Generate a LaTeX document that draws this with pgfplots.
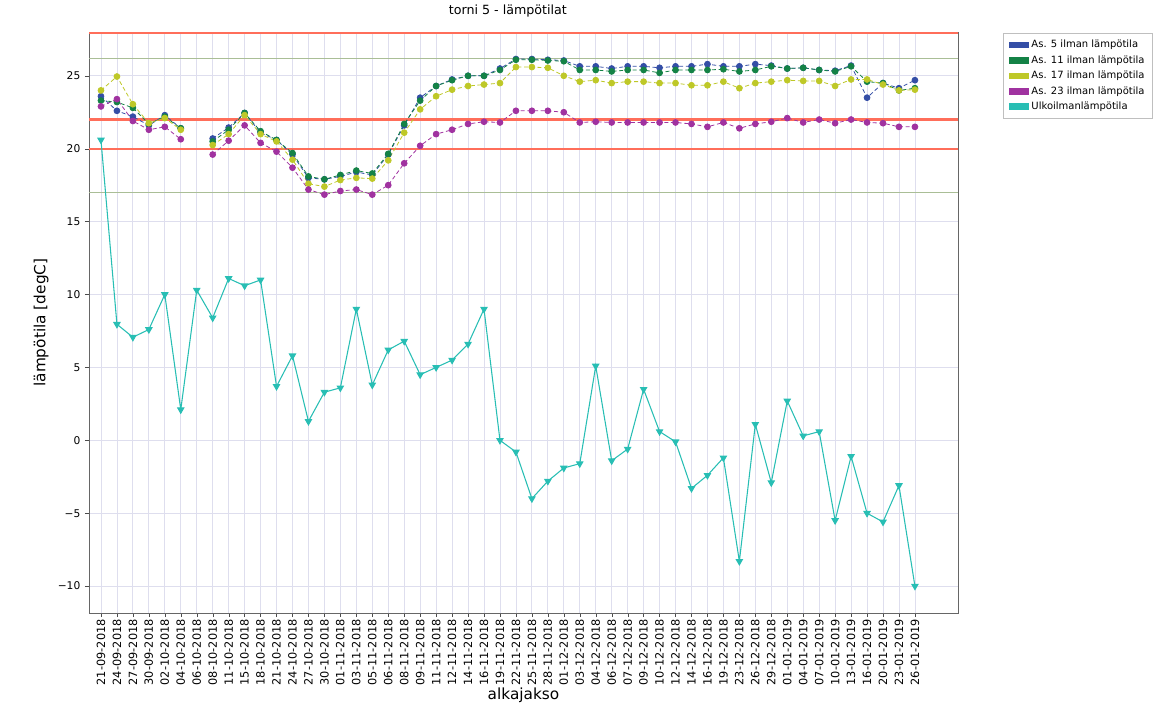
\documentclass[border=0pt]{standalone}
\usepackage{fontspec}
\setmainfont{DejaVu Sans}
\usepackage{pgfplots}
\usepackage{pgfplotstable}
\pgfplotsset{compat=1.18}
\definecolor{c5}{RGB}{52,78,166}
\definecolor{c11}{RGB}{20,130,70}
\definecolor{c17}{RGB}{190,200,40}
\definecolor{c23}{RGB}{160,50,160}
\definecolor{cout}{RGB}{40,190,180}
\definecolor{limred}{RGB}{255,110,90}
\definecolor{limgreen}{RGB}{170,190,150}
\definecolor{gridc}{RGB}{222,222,238}

% i = aikajakson indeksi
\pgfplotstableread{
i  b     g     y     m     o
0  23.6  23.3  24.0  22.9  20.6
1  22.6  23.2  24.95 23.4  7.96
2  22.2  22.8  23.05 21.9  7.07
3  21.6  21.7  21.75 21.3  7.6
4  22.3  22.2  22.1  21.5  10.0
5  21.4  21.4  21.3  20.65 2.1
6  nan   nan   nan   nan   10.3
7  20.7  20.5  20.25 19.6  8.4
8  21.45 21.3  21.0  20.55 11.1
9  22.45 22.45 22.3  21.6  10.6
10 21.1  21.2  21.0  20.4  11.0
11 20.6  20.6  20.5  19.8  3.7
12 19.6  19.7  19.25 18.7  5.8
13 18.0  18.1  17.6  17.2  1.3
14 17.9  17.9  17.4  16.85 3.3
15 18.1  18.2  17.85 17.1  3.6
16 18.4  18.5  18.0  17.2  9.0
17 18.2  18.3  17.95 16.85 3.8
18 19.6  19.65 19.2  17.5  6.2
19 21.6  21.7  21.1  19.0  6.8
20 23.5  23.3  22.7  20.2  4.5
21 24.3  24.3  23.6  21.0  5.0
22 24.75 24.7  24.05 21.3  5.5
23 25.0  25.0  24.3  21.7  6.6
24 25.0  25.0  24.4  21.85 9.0
25 25.5  25.4  24.5  21.8  0.0
26 26.15 26.1  25.6  22.6  -0.8
27 26.15 26.1  25.6  22.6  -4.0
28 26.1  26.05 25.55 22.6  -2.8
29 26.05 26.0  25.0  22.5  -1.9
30 25.65 25.4  24.6  21.8  -1.6
31 25.65 25.4  24.7  21.85 5.1
32 25.5  25.3  24.5  21.8  -1.4
33 25.65 25.4  24.6  21.8  -0.6
34 25.65 25.4  24.6  21.8  3.5
35 25.55 25.2  24.5  21.8  0.6
36 25.65 25.4  24.5  21.8  -0.1
37 25.65 25.4  24.35 21.7  -3.3
38 25.8  25.4  24.35 21.5  -2.4
39 25.65 25.45 24.6  21.8  -1.2
40 25.65 25.3  24.15 21.4  -8.3
41 25.8  25.4  24.5  21.7  1.1
42 25.7  25.65 24.6  21.85 -2.9
43 25.5  25.5  24.7  22.1  2.7
44 25.55 25.55 24.65 21.8  0.3
45 25.4  25.4  24.65 22.0  0.6
46 25.35 25.3  24.3  21.75 -5.5
47 25.7  25.65 24.75 22.0  -1.1
48 23.5  24.6  24.75 21.8  -5.0
49 24.5  24.5  24.4  21.75 -5.6
50 24.15 24.0  24.0  21.5  -3.1
51 24.7  24.15 24.05 21.5  -10.0
}\temps

\begin{document}
\begin{tikzpicture}
\path (-66.75pt,-72pt) rectangle (807.75pt,457.5pt);
\begin{axis}[
    at={(0,0)}, anchor=south west,
    scale only axis,
    width=651.75pt, height=435.75pt,
    xmin=-0.75, xmax=53.7,
    ymin=-11.85, ymax=28,
    unbounded coords=jump,
    xtick={0,...,51},
    xticklabels={21-09-2018,24-09-2018,27-09-2018,30-09-2018,02-10-2018,04-10-2018,
      06-10-2018,08-10-2018,11-10-2018,15-10-2018,18-10-2018,21-10-2018,24-10-2018,
      27-10-2018,30-10-2018,01-11-2018,03-11-2018,05-11-2018,06-11-2018,08-11-2018,
      09-11-2018,11-11-2018,12-11-2018,14-11-2018,16-11-2018,19-11-2018,22-11-2018,
      25-11-2018,28-11-2018,01-12-2018,03-12-2018,04-12-2018,06-12-2018,07-12-2018,
      09-12-2018,10-12-2018,12-12-2018,14-12-2018,16-12-2018,19-12-2018,23-12-2018,
      26-12-2018,29-12-2018,01-01-2019,04-01-2019,07-01-2019,10-01-2019,13-01-2019,
      16-01-2019,20-01-2019,23-01-2019,26-01-2019},
    xticklabel style={rotate=90, anchor=east, font=\fontsize{8.5}{9}\selectfont, inner sep=1.5pt},
    ytick={-10,-5,0,5,10,15,20,25},
    yticklabels={−10,−5,0,5,10,15,20,25},
    yticklabel style={font=\fontsize{8}{9}\selectfont},
    tick pos=left, tick align=outside,
    major tick length=3pt,
    tick style={black!70},
    axis line style={black!60},
    grid=major,
    major grid style={gridc, line width=0.6pt},
    title={torni 5 - lämpötilat},
    title style={at={(0.482,1)}, anchor=south, yshift=2pt, font=\fontsize{9.5}{10}\selectfont},
    xlabel={alkajakso},
    ylabel={lämpötila [degC]},
    xlabel style={font=\fontsize{11.5}{12}\selectfont, yshift=3pt},
    ylabel style={font=\fontsize{11.5}{12}\selectfont},
    legend style={at={(1.052,0.998)}, anchor=north west,
      font=\fontsize{7.5}{8}\selectfont, draw=black!25, row sep=0.4pt,
      inner xsep=4pt, inner ysep=3pt},
    legend cell align=left,
    legend image code/.code={\fill[#1, draw=none] (0pt,-2.5pt) rectangle (15pt,2.5pt);},
]
\addplot[limred, line width=1.8pt, forget plot] coordinates {(-0.75,22) (53.7,22)};
\addplot[limred, line width=1.8pt, forget plot] coordinates {(-0.75,20) (53.7,20)};
\addplot[limred, line width=1.8pt, forget plot] coordinates {(-0.75,27.95) (53.7,27.95)};
\addplot[limgreen, line width=1pt, forget plot] coordinates {(-0.75,26.2) (53.7,26.2)};
\addplot[limgreen, line width=1pt, forget plot] coordinates {(-0.75,17) (53.7,17)};

\addplot[c5, line width=0.6pt, dash pattern=on 3pt off 2pt, mark=*, mark size=2.2pt, mark options={solid}]
  table[x=i, y=b] {\temps};
\addplot[c11, line width=0.6pt, dash pattern=on 3pt off 2pt, mark=*, mark size=2.2pt, mark options={solid}]
  table[x=i, y=g] {\temps};
\addplot[c17, line width=0.6pt, dash pattern=on 3pt off 2pt, mark=*, mark size=2.2pt, mark options={solid}]
  table[x=i, y=y] {\temps};
\addplot[c23, line width=0.6pt, dash pattern=on 3pt off 2pt, mark=*, mark size=2.2pt, mark options={solid}]
  table[x=i, y=m] {\temps};
\addplot[cout, line width=0.8pt, mark=triangle*, mark size=2.6pt, mark options={solid, rotate=180}]
  table[x=i, y=o] {\temps};
\legend{As. 5 ilman lämpötila, As. 11 ilman lämpötila, As. 17 ilman lämpötila, As. 23 ilman lämpötila, Ulkoilmanlämpötila}
\end{axis}
\end{tikzpicture}
\end{document}
